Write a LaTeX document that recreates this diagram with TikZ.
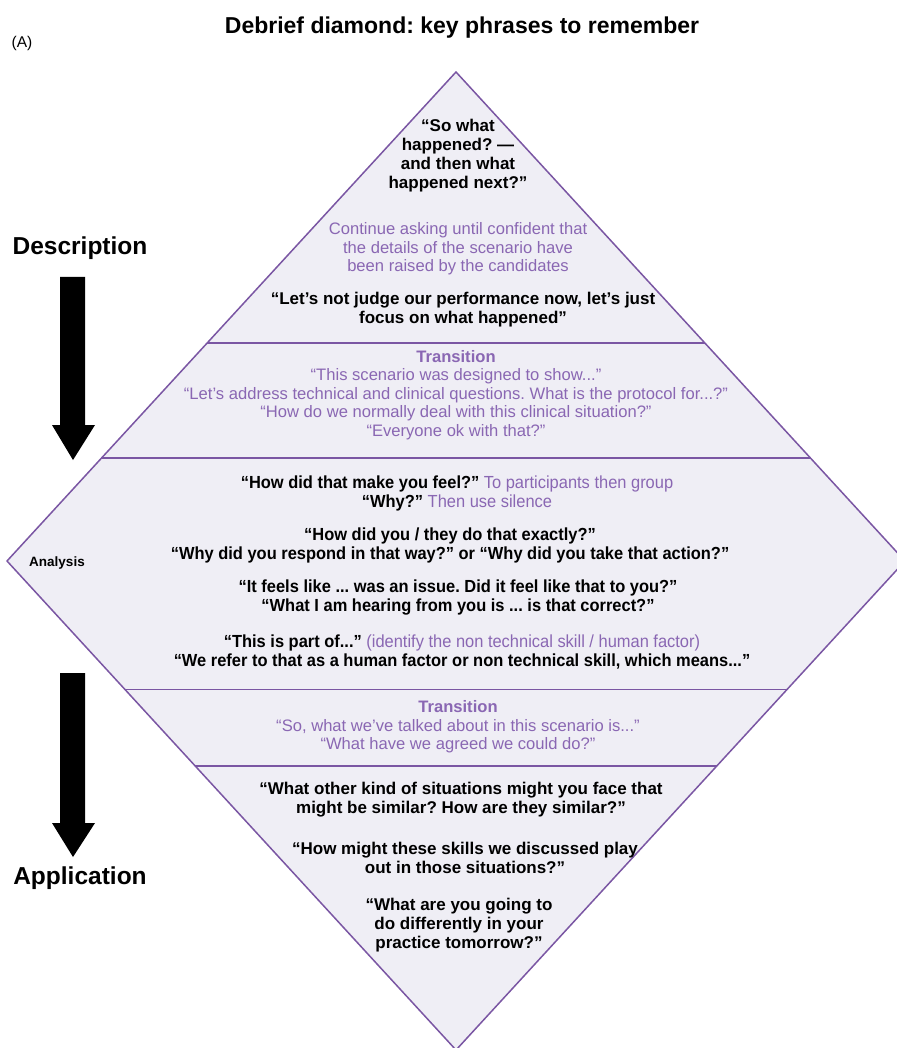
\documentclass[tikz,border=0pt]{standalone}
\usepackage{fontspec}
\setmainfont{Liberation Sans}
\newfontfamily\narrowfont[FakeStretch=0.94]{Liberation Sans}
\usetikzlibrary{calc}
\definecolor{lilac}{HTML}{EFEEF5}
\definecolor{plum}{HTML}{7A56A3}
\definecolor{plumtext}{HTML}{8A67B3}
\frenchspacing

\begin{document}
\begin{tikzpicture}[x=1pt,y=-1pt,line join=round,
    phrase/.style={font=\bfseries\fontsize{17}{19}\selectfont,align=center,text=black},
    narrowphrase/.style={font=\narrowfont\bfseries\fontsize{17.5}{19}\selectfont,align=center,text=black},
    note/.style={font=\fontsize{16.6}{18.5}\selectfont,align=center,text=plumtext},
    sidelabel/.style={font=\bfseries\fontsize{24.5}{28}\selectfont},
    band/.style={plum,line width=1.5pt}]
  \useasboundingbox (0,0) rectangle (896,1048);
  \node[font=\bfseries\fontsize{23}{26}\selectfont] (title) at (462,28) {Debrief diamond: key phrases to remember};
  \node[font=\fontsize{15.5}{18}\selectfont] (panel) at (22,43) {(A)};

  % diamond and its bands
  \coordinate (T) at (456,72);
  \coordinate (L) at (7,561);
  \coordinate (R) at (905,561);
  \coordinate (B) at (456,1050);
  \fill[lilac] (T)--(R)--(B)--(L)--cycle;
  \draw[band] ($(T)!.554!(L)$)--($(T)!.554!(R)$);
  \draw[band] ($(T)!.789!(L)$)--($(T)!.789!(R)$);
  \draw[band] ($(L)!.263!(B)$)--($(R)!.263!(B)$);
  \draw[band] ($(L)!.419!(B)$)--($(R)!.419!(B)$);
  \draw[band] (T)--(R)--(B)--(L)--cycle;

  % description
  \node[phrase] (what) at (458,156) {“So what\\happened? —\\and then what\\happened next?”};
  \node[note] (continue) at (458,249) {Continue asking until confident that\\the details of the scenario have\\been raised by the candidates};
  \node[phrase] (judge) at (463,310) {“Let’s not judge our performance now, let’s just\\focus on what happened”};

  % first transition
  \node[note] (trans1) at (456,395) {\bfseries Transition\\“This scenario was designed to show...”\\“Let’s address technical and clinical questions. What is the protocol for...?”\\“How do we normally deal with this clinical situation?”\\“Everyone ok with that?”};

  % analysis
  \node[narrowphrase] (feel) at (457,493) {“How did that make you feel?” {\mdseries\color{plumtext}To participants then group}\\“Why?” {\mdseries\color{plumtext}Then use silence}};
  \node[narrowphrase] (exactly) at (450,545) {“How did you / they do that exactly?”\\“Why did you respond in that way?” or “Why did you take that action?”};
  \node[narrowphrase] (issue) at (458,598) {“It feels like ... was an issue. Did it feel like that to you?”\\“What I am hearing from you is ... is that correct?”};
  \node[narrowphrase] (part) at (462,652) {“This is part of...” {\mdseries\color{plumtext}(identify the non technical skill / human factor)}\\“We refer to that as a human factor or non technical skill, which means...”};
  \node[font=\bfseries\fontsize{13.5}{16}\selectfont] (analysis) at (57,563) {Analysis};

  % second transition
  \node[note] (trans2) at (458,727) {\bfseries Transition\\“So, what we’ve talked about in this scenario is...”\\“What have we agreed we could do?”};

  % application
  \node[phrase] (similar) at (461,800) {“What other kind of situations might you face that\\might be similar? How are they similar?”};
  \node[phrase] (skills) at (465,858) {“How might these skills we discussed play\\out in those situations?”};
  \node[phrase] (tomorrow) at (459,925) {“What are you going to\\do differently in your\\practice tomorrow?”};

  % stage arrows
  \node[sidelabel] (desc) at (80,248) {Description};
  \node[sidelabel] (appl) at (80,878) {Application};
  \foreach \top/\neck/\tip in {277/425/460,673/823/857}{
    \fill (60,\top)--(85,\top)--(85,\neck)--(95,\neck)--(73,\tip)--(52,\neck)--(60,\neck)--cycle;
  }
\end{tikzpicture}
\end{document}
